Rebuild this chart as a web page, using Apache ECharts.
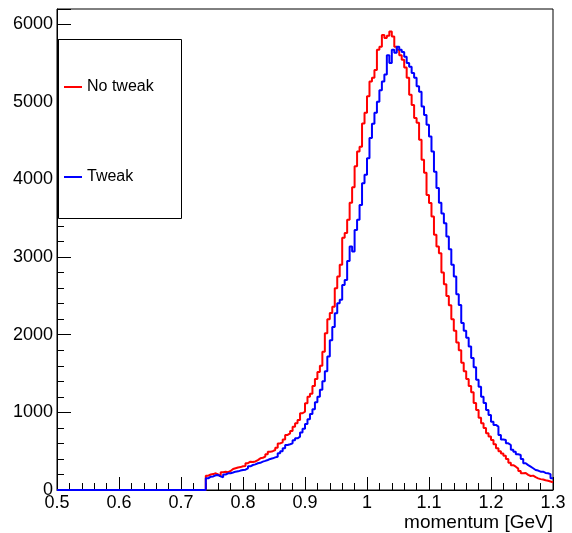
<!DOCTYPE html>
<html>
<head>
<meta charset="utf-8">
<script src="https://cdn.jsdelivr.net/npm/echarts@6/dist/echarts.min.js"></script>
<style>
html,body{margin:0;padding:0;background:#fff;}
#chart{width:572px;height:533px;}
</style>
</head>
<body>
<div id="chart"></div>
<script>
// Histogram range and binning
const xMin = 0.5, xMax = 1.3;
const firstFilledEdge = 0.74;   // left edge of first non-empty bin
const binWidth = 0.004;
const xTickLabels = ['0.5','0.6','0.7','0.8','0.9','1','1.1','1.2','1.3'];
const yTickLabels = ['0','1000','2000','3000','4000','5000','6000'];
const seriesNames = ['No tweak', 'Tweak'];

// Bin contents from 0.740 to 1.300 (140 bins of 0.004)
const noTweak = [
 185,200,205,215,200,175,230,236,230,245,
 270,280,290,295,305,310,345,365,360,368,
 385,408,415,430,460,494,500,515,545,600,
 615,650,709,730,760,816,860,902,988,1010,
 1117,1200,1240,1340,1430,1520,1600,1780,2020,2200,
 2280,2360,2600,2750,2900,3250,3310,3480,3700,3900,
 4170,4360,4420,4720,4860,5070,5260,5310,5410,5670,
 5710,5860,5820,5850,5906,5840,5710,5670,5600,5540,
 5440,5310,5090,4960,4790,4730,4510,4253,4085,3800,
 3698,3522,3286,3135,3050,2800,2650,2500,2380,2200,
 2050,1900,1800,1640,1530,1430,1340,1260,1120,1030,
 930,860,800,730,690,644,590,537,500,470,
 440,400,350,320,300,275,245,215,220,195,
 180,185,165,150,140,135,125,120,110,100
];
const tweak = [
 150,172,175,190,193,175,163,200,215,215,
 225,236,240,250,258,262,279,305,322,330,
 344,350,365,375,387,400,408,420,429,473,
 500,537,580,590,601,640,666,687,740,790,
 850,910,980,1040,1130,1200,1290,1400,1530,1720,
 1930,2100,2277,2405,2450,2641,2706,2950,3135,3071,
 3350,3480,3672,3952,4059,4274,4532,4716,4860,5000,
 5150,5260,5350,5600,5500,5670,5630,5710,5670,5640,
 5580,5500,5450,5370,5310,5200,5130,4940,4830,4704,
 4553,4360,4100,3888,3700,3560,3437,3264,3100,2900,
 2750,2520,2384,2150,2050,1960,1847,1700,1580,1420,
 1330,1202,1120,1030,966,880,838,816,709,650,
 644,601,580,520,494,460,451,400,344,320,
 300,280,258,250,236,236,220,215,205,150
];

function toSteps(vals) {
  const pts = [[xMin, 0]];
  for (let i = 0; i < vals.length; i++) {
    pts.push([+(firstFilledEdge + i * binWidth).toFixed(4), vals[i]]);
  }
  pts.push([xMax, vals[vals.length - 1]]);
  return pts;
}

const font = '"Liberation Sans", Arial, Helvetica, sans-serif';
const chart = echarts.init(document.getElementById('chart'), null, {renderer: 'canvas'});
chart.setOption({
  animation: false,
  backgroundColor: '#ffffff',
  grid: {left: 57, right: 19, top: 9, bottom: 43, show: true, borderColor: '#000', borderWidth: 1, backgroundColor: 'transparent'},
  legend: {
    orient: 'vertical',
    left: 63, top: 79,
    itemWidth: 18, itemHeight: 16, itemGap: 74,
    padding: 0,
    itemStyle: {color: 'rgba(0,0,0,0)', borderWidth: 0, opacity: 0},
    lineStyle: {width: 2},
    textStyle: {fontFamily: font, fontSize: 16, color: '#000', lineHeight: 16},
    data: seriesNames,
    z: 20
  },
  graphic: [{
    type: 'rect', left: 58, top: 39, z: 10,
    shape: {width: 123, height: 179},
    style: {fill: '#fff', stroke: '#000', lineWidth: 1}
  }],
  xAxis: {
    type: 'value', min: xMin, max: xMax, interval: 0.1,
    name: 'momentum [GeV]', nameLocation: 'end', nameGap: 0,
    nameTextStyle: {fontFamily: font, fontSize: 19, color: '#000', align: 'right', verticalAlign: 'top', padding: [23, 0, 0, 0]},
    axisLine: {show: true, lineStyle: {color: '#000', width: 1}},
    axisTick: {show: true, inside: true, length: 13, lineStyle: {color: '#000'}},
    minorTick: {show: true, splitNumber: 5, length: 7, lineStyle: {color: '#000'}},
    splitLine: {show: false},
    axisLabel: {fontFamily: font, fontSize: 18, color: '#000', margin: 4,
      formatter: function (v) { const i = Math.round((v - xMin) / 0.1); return xTickLabels[i] !== undefined ? xTickLabels[i] : ''; }}
  },
  yAxis: {
    type: 'value', min: 0, max: 6195, interval: 1000,
    axisLine: {show: true, lineStyle: {color: '#000', width: 1}},
    axisTick: {show: true, inside: true, length: 14, lineStyle: {color: '#000'}},
    minorTick: {show: true, splitNumber: 5, length: 7, lineStyle: {color: '#000'}},
    splitLine: {show: false},
    axisLabel: {fontFamily: font, fontSize: 18, color: '#000', margin: 4, showMaxLabel: false,
      formatter: function (v) { const i = Math.round(v / 1000); return (Math.abs(v - i * 1000) < 1e-6 && yTickLabels[i] !== undefined) ? yTickLabels[i] : ''; }}
  },
  series: [
    {name: seriesNames[0], type: 'line', step: 'end', symbol: 'none', data: toSteps(noTweak),
     lineStyle: {color: '#ff0000', width: 2}, itemStyle: {color: '#ff0000'}, z: 3},
    {name: seriesNames[1], type: 'line', step: 'end', symbol: 'none', data: toSteps(tweak),
     lineStyle: {color: '#0000ff', width: 2}, itemStyle: {color: '#0000ff'}, z: 4}
  ]
});
</script>
</body>
</html>
